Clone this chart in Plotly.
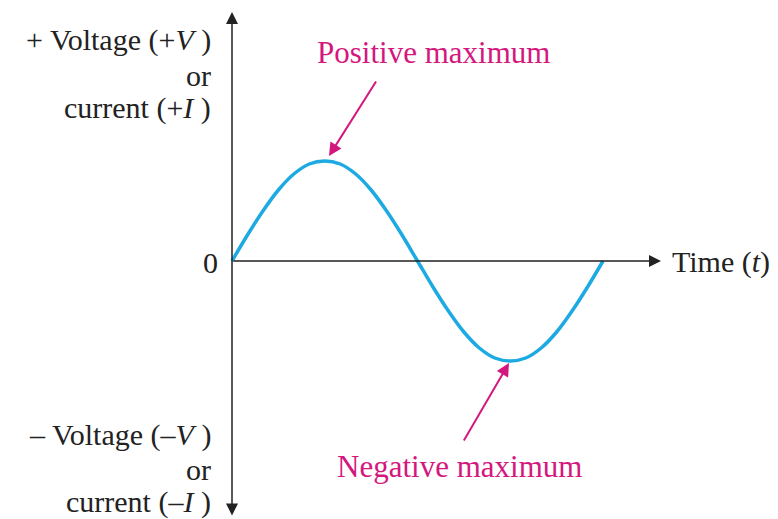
import plotly.graph_objects as go

# Data (time in degrees, amplitude in units of peak value)
time_deg = [0, 15, 30, 45, 60, 75, 90, 105, 120, 135, 150, 165, 180,
            195, 210, 225, 240, 255, 270, 285, 300, 315, 330, 345, 360]
amplitude = [0.0, 0.26, 0.5, 0.71, 0.87, 0.97, 1.0, 0.97, 0.87, 0.71, 0.5, 0.26, 0.0,
             -0.26, -0.5, -0.71, -0.87, -0.97, -1.0, -0.97, -0.87, -0.71, -0.5, -0.26, 0.0]

pos_label = "Positive maximum"
neg_label = "Negative maximum"
top_labels = ["+ Voltage (+<i>V</i> )", "or", "current (+<i>I</i> )"]
bot_labels = ["– Voltage (–<i>V</i> )", "or", "current (–<i>I</i> )"]
time_label = "Time (<i>t</i>)"

OFF = 8                      # page body margin
W, H = 778 - OFF, 519 - OFF
X0, Y0 = 232, 261            # pixel of origin in window coordinates
PX_PER_DEG = 371 / 360
PX_PER_UNIT = 100

def dx(px):
    return (px - X0) / PX_PER_DEG

def dy(py):
    return (Y0 - py) / PX_PER_UNIT

FONT = "Liberation Serif"
PINK = "#D4177E"
BLUE = "#1DA9E1"
AXIS = "#222222"

fig = go.Figure()
fig.add_trace(go.Scatter(x=time_deg, y=amplitude, mode="lines",
                         line=dict(color=BLUE, width=3.5, shape="spline"),
                         hoverinfo="skip"))

ann = []
ann.append(dict(x=0, y=dy(12), ax=0, ay=dy(517), xref="x", yref="y", axref="x", ayref="y",
                text="", showarrow=True, arrowhead=2, startarrowhead=2, arrowside="end+start",
                arrowsize=1.6, startarrowsize=1.6, arrowwidth=1.5, arrowcolor=AXIS))
ann.append(dict(x=dx(661), y=0, ax=0, ay=0, xref="x", yref="y", axref="x", ayref="y",
                text="", showarrow=True, arrowhead=2, arrowsize=1.6, arrowwidth=1.5,
                arrowcolor=AXIS))
ann.append(dict(x=dx(329), y=dy(156), ax=dx(377), ay=dy(80), xref="x", yref="y",
                axref="x", ayref="y", text="", showarrow=True, arrowhead=2,
                arrowsize=1.3, arrowwidth=2, arrowcolor=PINK))
ann.append(dict(x=dx(509), y=dy(363), ax=dx(463), ay=dy(442), xref="x", yref="y",
                axref="x", ayref="y", text="", showarrow=True, arrowhead=2,
                arrowsize=1.3, arrowwidth=2, arrowcolor=PINK))

def txt(s, px, py, size=30, color="#222222", anchor="center"):
    ann.append(dict(x=(px - OFF) / W, y=1 - (py - OFF) / H, xref="paper", yref="paper",
                    text=s, showarrow=False, xanchor=anchor, yanchor="middle",
                    font=dict(family=FONT, size=size, color=color)))

txt(pos_label, 434, 52, size=31, color=PINK)
txt(neg_label, 459, 466, size=31, color=PINK)
for s, py in zip(top_labels, [40, 75, 108]):
    txt(s, 213, py, anchor="right")
for s, py in zip(bot_labels, [435, 469, 502]):
    txt(s, 213, py, anchor="right")
txt("0", 220, 262, anchor="right")
txt(time_label, 670, 262, anchor="left")

fig.update_layout(
    width=W, height=H, margin=dict(l=0, r=0, t=0, b=0),
    paper_bgcolor="white", plot_bgcolor="white", showlegend=False,
    xaxis=dict(range=[dx(OFF), dx(778)], visible=False, fixedrange=True),
    yaxis=dict(range=[dy(519), dy(OFF)], visible=False, fixedrange=True),
    annotations=ann,
)
fig.write_html("out.html")
